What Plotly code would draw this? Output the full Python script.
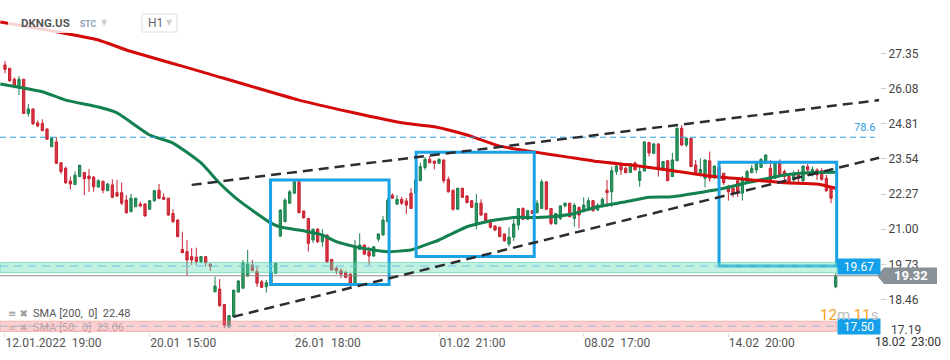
import plotly.graph_objects as go

# ---------------- data ----------------
candle_open = [26.93, 26.81, 26.41, 26.09, 26.41, 25.18, 25.34, 24.84, 24.82, 24.62,
               23.98, 24.15, 23.40, 23.20, 22.74, 22.61, 22.90, 23.05, 22.92, 22.88,
               22.52, 22.73, 22.39, 22.60, 22.32, 22.32, 22.05, 21.63, 21.81, 21.91,
               21.91, 21.72, 22.03, 22.41, 22.15, 22.12, 21.57, 21.33, 20.27, 20.19,
               20.01, 19.99, 19.83, 20.01, 19.74, 18.74, 18.84, 18.28, 17.48, 17.84,
               18.73, 18.87, 19.31, 19.71, 19.47, 19.10, 18.92, 19.06, 19.41, 20.75,
               21.27, 21.94, 22.30, 22.71, 21.66, 21.39, 20.61, 21.00, 20.55, 20.79,
               19.91, 19.59, 19.50, 19.43, 19.38, 19.05, 20.27, 20.43, 20.19, 20.03,
               20.64, 20.79, 21.27, 22.23, 21.91, 22.08, 22.02, 22.30, 22.30, 22.75,
               23.23, 23.52, 23.46, 23.38, 23.50, 22.80, 22.41, 21.72, 22.48, 22.20,
               22.03, 21.15, 21.94, 21.57, 21.33, 21.12, 21.07, 20.83, 20.47, 20.71,
               21.15, 21.75, 21.36, 21.67, 21.60, 21.75, 22.71, 21.75, 21.19, 21.39,
               21.84, 21.94, 21.39, 21.79, 21.69, 21.75, 22.03, 21.69, 21.81, 22.41,
               22.35, 23.08, 23.35, 23.20, 23.05, 23.39, 22.76, 23.10, 24.13, 23.74,
               24.08, 23.20, 23.47, 22.90, 23.47, 24.64, 24.04, 24.28, 23.32, 23.04,
               22.84, 23.47, 22.90, 23.23, 23.02, 22.53, 22.48, 22.75, 22.30, 22.71,
               23.04, 23.14, 23.23, 23.38, 23.20, 22.84, 23.44, 23.08, 22.90, 22.78,
               22.96, 22.75, 23.26, 22.96, 23.14, 23.11, 22.84, 22.48, 18.92]
candle_high = [27.07, 26.81, 26.48, 26.53, 26.43, 25.52, 25.36, 24.92, 24.97, 24.64,
               24.32, 24.32, 23.40, 23.26, 22.90, 23.08, 23.32, 23.06, 23.17, 22.92,
               22.80, 22.75, 22.67, 22.80, 22.78, 22.68, 22.23, 22.27, 22.13, 21.99,
               21.94, 22.05, 22.41, 22.63, 22.30, 22.13, 21.72, 21.36, 20.91, 20.61,
               20.32, 20.33, 20.02, 20.02, 19.77, 19.29, 19.20, 18.30, 17.90, 18.81,
               19.17, 19.89, 20.25, 19.89, 19.67, 19.17, 19.17, 19.50, 19.79, 21.72,
               22.12, 22.41, 22.78, 22.72, 21.67, 21.40, 21.01, 21.04, 21.00, 20.80,
               19.92, 19.65, 19.59, 19.50, 19.39, 20.61, 20.85, 20.44, 20.37, 20.38,
               20.85, 21.48, 22.13, 22.30, 22.23, 22.17, 22.13, 22.48, 22.80, 23.40,
               23.60, 23.64, 23.47, 23.56, 23.51, 22.90, 22.42, 22.49, 22.49, 22.23,
               22.05, 22.27, 22.08, 21.58, 21.36, 21.15, 21.08, 20.84, 21.07, 21.36,
               21.76, 21.79, 21.69, 21.69, 22.05, 22.80, 22.72, 21.76, 21.58, 21.87,
               21.96, 21.95, 21.94, 21.81, 22.15, 22.15, 22.04, 21.94, 22.15, 22.78,
               23.26, 23.38, 23.40, 23.26, 23.39, 23.44, 23.26, 24.18, 24.16, 24.11,
               24.09, 23.45, 23.50, 23.76, 24.68, 24.76, 24.32, 24.29, 23.50, 23.56,
               23.51, 23.80, 23.29, 23.30, 23.03, 22.60, 22.49, 22.76, 22.92, 23.14,
               23.32, 23.47, 23.56, 23.69, 23.50, 23.45, 23.52, 23.16, 22.96, 23.11,
               23.16, 23.29, 23.35, 23.26, 23.20, 23.20, 22.96, 22.53, 19.41]
candle_low = [26.63, 26.32, 26.09, 25.84, 25.16, 25.06, 24.78, 24.68, 24.53, 24.22,
              23.96, 23.35, 22.99, 22.63, 22.44, 22.60, 22.88, 22.23, 22.34, 22.35,
              22.51, 22.30, 22.38, 22.12, 22.16, 21.87, 21.55, 21.62, 21.80, 21.79,
              21.45, 21.69, 21.99, 22.08, 22.05, 21.48, 21.23, 20.72, 20.14, 19.31,
              19.71, 19.71, 19.77, 19.65, 19.49, 18.73, 18.20, 17.43, 17.42, 17.83,
              18.72, 18.86, 19.28, 19.49, 18.92, 18.88, 18.71, 19.02, 19.38, 20.73,
              21.26, 21.91, 22.27, 21.57, 21.38, 20.19, 20.51, 20.50, 20.37, 19.77,
              19.50, 19.38, 19.23, 19.23, 18.87, 19.04, 20.25, 20.07, 19.71, 20.01,
              20.55, 20.78, 21.26, 22.09, 21.87, 21.87, 21.55, 21.74, 22.28, 22.74,
              23.14, 23.38, 23.16, 23.35, 22.66, 22.32, 21.67, 21.71, 22.13, 21.94,
              21.76, 21.00, 21.48, 21.30, 21.03, 20.93, 20.72, 20.55, 20.37, 20.58,
              20.97, 21.33, 21.33, 21.55, 21.57, 21.74, 21.69, 21.15, 21.18, 21.33,
              21.79, 21.43, 21.09, 21.03, 21.67, 21.74, 21.63, 21.67, 21.79, 21.81,
              21.81, 22.96, 22.96, 23.02, 23.03, 23.13, 22.53, 23.09, 23.62, 23.71,
              22.90, 23.17, 22.74, 22.89, 23.46, 24.00, 23.96, 23.25, 22.96, 22.90,
              22.51, 22.71, 22.80, 22.88, 22.60, 22.03, 22.15, 22.17, 22.03, 22.70,
              23.02, 23.02, 23.22, 23.35, 22.75, 22.81, 22.90, 22.78, 22.66, 22.68,
              22.68, 22.66, 22.92, 22.90, 22.78, 22.75, 22.35, 21.94, 18.87]
candle_close = [26.77, 26.36, 26.17, 26.41, 25.18, 25.34, 24.80, 24.73, 24.56, 24.25,
                24.28, 23.38, 23.08, 22.68, 22.63, 22.95, 23.31, 22.82, 22.82, 22.53,
                22.75, 22.41, 22.63, 22.15, 22.20, 21.94, 21.60, 22.12, 22.12, 21.84,
                21.48, 22.03, 22.39, 22.12, 22.08, 21.51, 21.27, 20.73, 20.15, 19.89,
                19.89, 19.83, 20.01, 19.79, 19.65, 18.95, 18.24, 17.54, 17.88, 18.80,
                19.13, 19.79, 19.74, 19.50, 19.05, 18.90, 19.07, 19.45, 19.77, 21.69,
                22.05, 22.35, 22.71, 21.60, 21.41, 20.49, 21.00, 20.55, 20.79, 19.83,
                19.53, 19.50, 19.38, 19.26, 19.05, 20.37, 20.43, 20.10, 20.03, 20.37,
                20.83, 21.33, 22.05, 22.12, 22.08, 21.94, 21.87, 21.75, 22.78, 23.26,
                23.52, 23.40, 23.38, 23.52, 22.75, 22.35, 21.72, 22.48, 22.15, 21.96,
                21.79, 21.94, 21.51, 21.31, 21.07, 20.97, 20.73, 20.58, 20.71, 21.19,
                21.75, 21.36, 21.67, 21.57, 21.94, 22.71, 21.72, 21.21, 21.57, 21.84,
                21.94, 21.45, 21.87, 21.51, 21.87, 22.03, 21.67, 21.87, 22.08, 22.32,
                23.11, 23.28, 23.14, 23.04, 23.37, 23.14, 23.08, 24.15, 23.75, 24.08,
                23.23, 23.44, 22.75, 23.50, 24.64, 24.04, 24.28, 23.26, 22.99, 23.16,
                23.50, 22.84, 23.28, 22.92, 22.68, 22.35, 22.30, 22.35, 22.84, 23.08,
                23.20, 23.38, 23.52, 23.68, 22.78, 23.44, 22.96, 22.90, 22.71, 23.02,
                22.84, 23.28, 23.14, 23.16, 22.96, 22.80, 22.39, 22.12, 19.32]
candle_idx = list(range(len(candle_open)))

# SMA(200) and SMA(50) values read at sample candles
sma200_idx = [-1, 10, 20, 26, 42, 63, 74, 85, 92, 99, 106, 113, 120, 127, 135, 142, 152, 160, 167, 174, 176, 178]
sma200_val = [28.48, 28.16, 27.83, 27.47, 26.69, 25.66, 25.23, 24.84, 24.70, 24.40, 24.00,
              23.80, 23.62, 23.44, 23.30, 23.14, 22.90, 22.78, 22.68, 22.63, 22.56, 22.48]
sma50_idx = [-1, 8, 13, 20, 24, 31, 36, 42, 46, 50, 57, 59, 63, 68, 71, 75, 79, 82, 87, 91,
             93, 99, 105, 110, 113, 117, 122, 127, 133, 138, 143, 153, 160, 167, 173, 178]
sma50_val = [26.24, 25.96, 25.66, 25.41, 25.20, 24.40, 24.11, 23.39, 22.66, 22.05, 21.22,
             21.08, 20.97, 20.79, 20.55, 20.37, 20.25, 20.19, 20.25, 20.49, 20.61, 21.09,
             21.33, 21.43, 21.42, 21.45, 21.57, 21.81, 21.99, 22.15, 22.17, 22.44, 22.71,
             22.96, 23.05, 23.06]

# drawing objects (in candle-index / price units)
trend_x0 = [40.0, 48.9]
trend_y0 = [22.60, 17.84]
trend_x1 = [187.3, 187.3]
trend_y1 = [25.66, 23.58]

box_x0 = [56.9, 88.1, 153.0]
box_x1 = [82.3, 113.4, 178.2]
box_lo = [19.00, 20.01, 19.67]
box_hi = [22.78, 23.78, 23.42]

zone_lo = [19.43, 17.30]
zone_hi = [19.80, 17.68]
zone_level = [19.67, 17.50]
zone_label = ["19.67", "17.50"]
fib_level = 24.32
fib_label = "78.6"
last_price = 19.32

tick_idx = [0, 31, 62, 93, 124, 155]
tick_text = ["12.01.2022\u00a0\u00a019:00", "20.01\u00a0\u00a015:00", "26.01\u00a0\u00a018:00",
             "01.02\u00a0\u00a021:00", "08.02\u00a0\u00a017:00", "14.02\u00a0\u00a020:00"]
price_ticks = [18.46, 19.73, 21.00, 22.27, 23.54, 24.81, 26.08, 27.35]
bottom_price_tick = 17.19

Y_RANGE = [17.289, 29.274]
X_RANGE = [-1.07, 187.49]

FONT = "Roboto, Arial, sans-serif"
BLUE = "#1ba1e6"

fig = go.Figure()
fig.add_trace(go.Candlestick(
    x=candle_idx, open=candle_open, high=candle_high, low=candle_low, close=candle_close,
    increasing=dict(line=dict(color="#1c7f4e", width=1), fillcolor="#2a975f"),
    decreasing=dict(line=dict(color="#c62231", width=1), fillcolor="#dc3342"),
    hoverinfo="skip", showlegend=False))
fig.add_trace(go.Scatter(x=sma50_idx, y=sma50_val, mode="lines",
                         line=dict(color="#12804f", width=3, shape="spline", smoothing=0.5),
                         hoverinfo="skip", showlegend=False))
fig.add_trace(go.Scatter(x=sma200_idx, y=sma200_val, mode="lines",
                         line=dict(color="#d40a0a", width=3, shape="spline", smoothing=0.5),
                         hoverinfo="skip", showlegend=False))

shapes = []
# current price line
shapes.append(dict(type="line", xref="paper", yref="y", x0=0, x1=0.9966, y0=last_price, y1=last_price,
                   line=dict(color="#8d8d8d", width=1), layer="above"))
# fib 78.6 line
shapes.append(dict(type="line", xref="paper", yref="y", x0=0, x1=0.994, y0=fib_level, y1=fib_level,
                   line=dict(color="#2a9be0", width=1, dash="6px,4px"), layer="above"))
# rectangles (blue boxes)
for x0, x1, lo, hi in zip(box_x0, box_x1, box_lo, box_hi):
    shapes.append(dict(type="rect", xref="x", yref="y", x0=x0, x1=x1, y0=lo, y1=hi,
                       line=dict(color=BLUE, width=3), fillcolor="rgba(0,0,0,0)", layer="above"))
# zones
zone_fill = ["rgba(100,220,180,0.40)", "rgba(240,120,120,0.35)"]
zone_edge = ["rgba(70,200,160,0.55)", "rgba(235,120,120,0.45)"]
zone_dash = ["#6cc8e6", "#9fb3d6"]
for lo, hi, lvl, fc, ec, dc in zip(zone_lo, zone_hi, zone_level, zone_fill, zone_edge, zone_dash):
    shapes.append(dict(type="rect", xref="paper", yref="y", x0=0, x1=0.951, y0=lo, y1=hi,
                       fillcolor=fc, line=dict(color=ec, width=1), layer="above"))
    shapes.append(dict(type="line", xref="paper", yref="y", x0=0, x1=0.951, y0=lvl, y1=lvl,
                       line=dict(color=dc, width=1, dash="8px,6px"), layer="above"))
# trend lines
for x0, y0, x1, y1 in zip(trend_x0, trend_y0, trend_x1, trend_y1):
    shapes.append(dict(type="line", xref="x", yref="y", x0=x0, y0=y0, x1=x1, y1=y1,
                       line=dict(color="#2a2e33", width=2.5, dash="10px,6px"), layer="above"))
# last price tag (arrow shaped)
half = 8.3 / 27.7
shapes.append(dict(type="path", xref="paper", yref="y",
                   path=(f"M 0.9966,{last_price} L 1.0045,{last_price + half} L 1.0648,{last_price + half} "
                         f"L 1.0648,{last_price - half} L 1.0045,{last_price - half} Z"),
                   fillcolor="#8a9196", line=dict(width=0), layer="above"))
# header backdrop and timeframe box
shapes.append(dict(type="rect", xref="paper", yref="paper", x0=8 / 880, x1=112 / 880,
                   y0=1 - 33 / 332, y1=1 - 11 / 332, fillcolor="rgba(255,255,255,0.82)",
                   line=dict(width=0), layer="above"))
shapes.append(dict(type="rect", xref="paper", yref="paper", x0=142 / 880, x1=177 / 880,
                   y0=1 - 32 / 332, y1=1 - 14 / 332, fillcolor="white",
                   line=dict(color="#dcdcdc", width=1), layer="above"))

ann = []
# zone price tags
for lvl, lab in zip(zone_level, zone_label):
    ann.append(dict(xref="paper", yref="y", x=837 / 880, y=lvl, xanchor="left", yanchor="middle",
                    text=lab, showarrow=False, bgcolor="#14a0e8", width=42, height=15, borderpad=0,
                    font=dict(family=FONT, size=12, color="white")))
ann.append(dict(xref="paper", yref="y", x=911 / 880, y=last_price, xanchor="center", yanchor="middle",
                text=f"<b>{last_price:.2f}</b>", showarrow=False,
                font=dict(family=FONT, size=13, color="white")))
ann.append(dict(xref="paper", yref="y", x=877 / 880, y=fib_level, xanchor="right", yanchor="bottom",
                yshift=1, text=fib_label, showarrow=False, font=dict(family=FONT, size=11, color="#2a9be0")))
ann.append(dict(xref="paper", yref="paper", x=889 / 880, y=1 - 330 / 332, xanchor="left", yanchor="middle",
                text=f"{bottom_price_tick:.2f}", showarrow=False, font=dict(family=FONT, size=12, color="#444")))
ann.append(dict(xref="paper", yref="paper", x=873 / 880, y=-10 / 332, xanchor="left", yanchor="middle",
                text="18.02\u00a0\u00a023:00", showarrow=False, font=dict(family=FONT, size=12, color="#333")))
# countdown
ann.append(dict(xref="paper", yref="paper", x=1.0, y=1 - 315 / 332, xanchor="right", yanchor="middle",
                text=("<span style='color:#f4a21e'>12</span><span style='color:#bdbdbd'>m</span> "
                      "<span style='color:#f4a21e'>11</span><span style='color:#bdbdbd'>s</span>"),
                showarrow=False, font=dict(family=FONT, size=15)))
# header
ann.append(dict(xref="paper", yref="paper", x=19 / 880, y=1 - 23 / 332, xanchor="left", yanchor="middle",
                text="<b>DKNG.US</b>", showarrow=False, font=dict(family=FONT, size=11.5, color="#555")))
ann.append(dict(xref="paper", yref="paper", x=78 / 880, y=1 - 24 / 332, xanchor="left", yanchor="middle",
                text="<b>STC</b>", showarrow=False, font=dict(family=FONT, size=8.5, color="#8ea2b6")))
ann.append(dict(xref="paper", yref="paper", x=99 / 880, y=1 - 22 / 332, xanchor="left", yanchor="middle",
                text="▼", showarrow=False, font=dict(family="DejaVu Sans", size=8, color="#cfcfcf")))
ann.append(dict(xref="paper", yref="paper", x=146 / 880, y=1 - 23 / 332, xanchor="left", yanchor="middle",
                text="H1", showarrow=False, font=dict(family=FONT, size=12, color="#666")))
ann.append(dict(xref="paper", yref="paper", x=164 / 880, y=1 - 23 / 332, xanchor="left", yanchor="middle",
                text="▼", showarrow=False, font=dict(family="DejaVu Sans", size=8, color="#cfcfcf")))
# indicator legend
legend_rows = [("SMA [200,\u00a0 0]\u00a0 22.48", "#555", "#999", 313),
               ("SMA [50,\u00a0 0]\u00a0 23.06", "rgba(120,100,100,0.45)", "rgba(150,130,130,0.45)", 327)]
for txt, col, icol, ypx in legend_rows:
    ann.append(dict(xref="paper", yref="paper", x=6 / 880, y=1 - ypx / 332, xanchor="left", yanchor="middle",
                    text="≡ ✖", showarrow=False, font=dict(family="DejaVu Sans", size=10, color=icol)))
    ann.append(dict(xref="paper", yref="paper", x=31 / 880, y=1 - ypx / 332, xanchor="left", yanchor="middle",
                    text=txt, showarrow=False, font=dict(family=FONT, size=11, color=col)))

fig.update_layout(
    width=950, height=360,
    margin=dict(l=0, r=70, t=0, b=28),
    paper_bgcolor="white", plot_bgcolor="white",
    showlegend=False,
    shapes=shapes, annotations=ann,
    font=dict(family=FONT),
    xaxis=dict(range=X_RANGE, rangeslider=dict(visible=False), showgrid=False, zeroline=False,
               showline=False, tickmode="array", tickvals=tick_idx, ticktext=tick_text,
               ticks="outside", ticklen=4, tickcolor="#dddddd", ticklabelposition="outside right",
               tickfont=dict(family=FONT, size=12, color="#555")),
    yaxis=dict(range=Y_RANGE, side="right", showgrid=False, zeroline=False, showline=False,
               tickmode="array", tickvals=price_ticks, ticktext=[f"{v:.2f}" for v in price_ticks],
               ticks="outside", ticklen=5, tickcolor="#cccccc",
               tickfont=dict(family=FONT, size=12, color="#444")),
)

fig.write_html("out.html", config={"displayModeBar": False},
               post_script="document.body.style.margin='0px';")
